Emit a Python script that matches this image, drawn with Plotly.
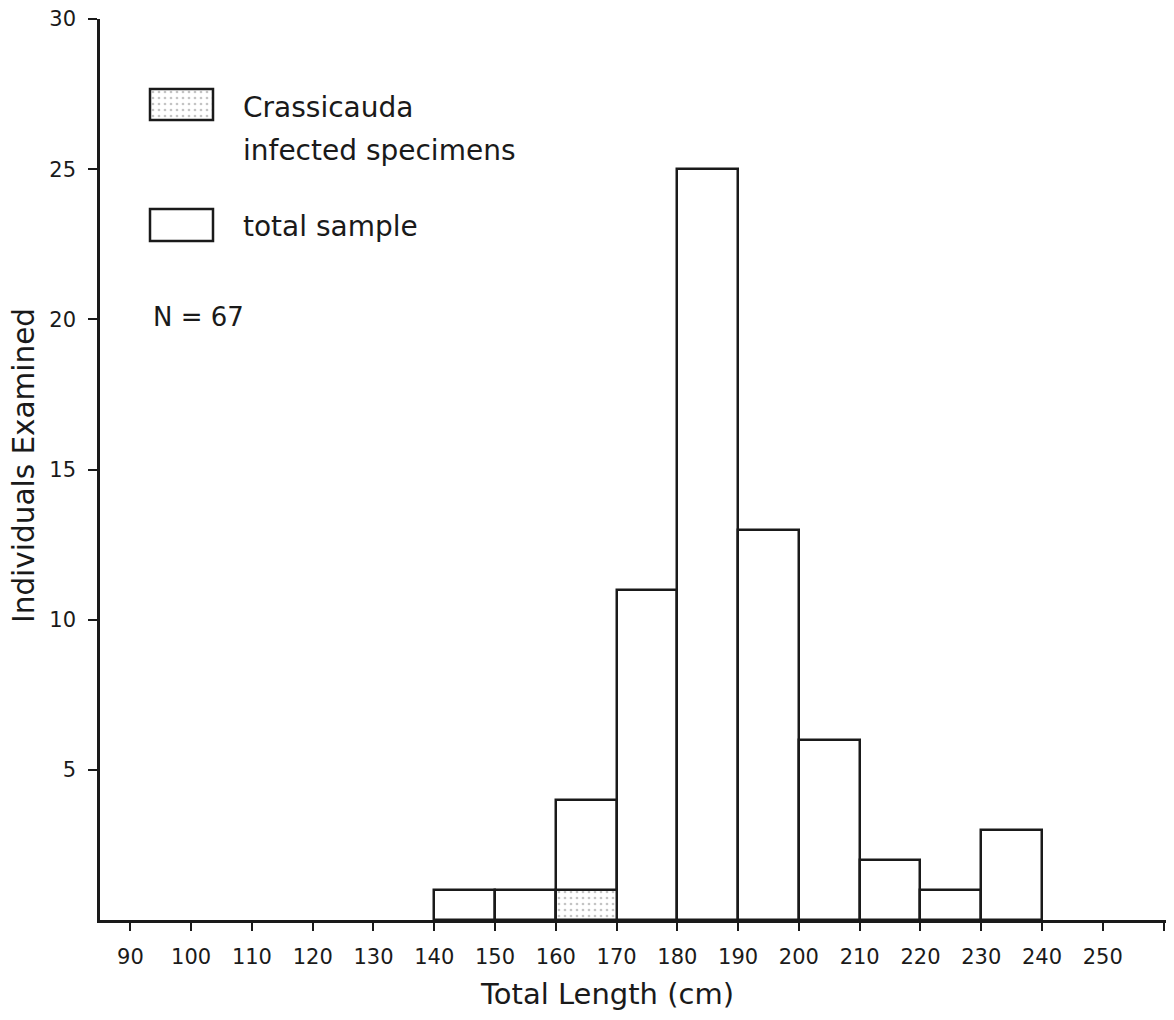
import plotly.graph_objects as go

# ---- data ----
bin_left = [140, 150, 160, 170, 180, 190, 200, 210, 220, 230]
total_sample = [1, 1, 4, 11, 25, 13, 6, 2, 1, 3]
infected_left = [160]
infected_counts = [1]
bin_width = 10

x_tick_vals = [90, 100, 110, 120, 130, 140, 150, 160, 170, 180, 190, 200, 210, 220, 230, 240, 250, 260]
x_tick_text = ["90", "100", "110", "120", "130", "140", "150", "160", "170", "180", "190",
               "200", "210", "220", "230", "240", "250", ""]
y_tick_vals = [5, 10, 15, 20, 25, 30]

FONT = "DejaVu Sans"
INK = "#1a1a1a"
LW = 2.5

# page body adds an 8px margin; the figure is sized to fit the window exactly
OFF = 8
W, H = 1174 - 2 * OFF, 1020 - 2 * OFF
ML, MT = 100 - OFF, 19 - OFF
MR = 0
MB = H - (920 - OFF)
PW, PH = W - ML - MR, H - MT - MB


def px_x(p):
    # screenshot pixel -> paper x
    return (p - OFF - ML) / PW


def px_y(p):
    # screenshot pixel -> paper y
    return (H - MB - (p - OFF)) / PH


stipple = dict(shape=".", fgcolor="#8a8a8a", bgcolor="white", size=6, solidity=0.16)

fig = go.Figure()

fig.add_trace(go.Bar(
    x=[v + bin_width / 2 for v in bin_left],
    y=total_sample,
    width=[bin_width] * len(bin_left),
    marker=dict(color="white", line=dict(color=INK, width=LW)),
    name="total sample",
    showlegend=False,
))

fig.add_trace(go.Bar(
    x=[v + bin_width / 2 for v in infected_left],
    y=infected_counts,
    width=[bin_width] * len(infected_left),
    marker=dict(color="white", line=dict(color=INK, width=LW), pattern=stipple),
    name="Crassicauda infected specimens",
    showlegend=False,
))

# legend swatch with the same stipple (on a hidden auxiliary axis)
sw_x0, sw_x1 = px_x(150), px_x(213)
fig.add_trace(go.Bar(
    x=[0.5], y=[1], width=[1], xaxis="x2", yaxis="y2",
    marker=dict(color="white", line=dict(width=0), pattern=stipple),
    showlegend=False, hoverinfo="skip",
))

shapes = [
    dict(type="rect", xref="paper", yref="paper", x0=sw_x0, x1=sw_x1,
         y0=px_y(120), y1=px_y(89), line=dict(color=INK, width=LW), fillcolor="rgba(0,0,0,0)"),
    dict(type="rect", xref="paper", yref="paper", x0=sw_x0, x1=sw_x1,
         y0=px_y(241), y1=px_y(209), line=dict(color=INK, width=LW), fillcolor="white"),
]

annotations = [
    dict(text="Crassicauda", x=px_x(241), y=px_y(107), xref="paper", yref="paper",
         xanchor="left", yanchor="middle", showarrow=False, font=dict(family=FONT, size=28, color=INK)),
    dict(text="infected specimens", x=px_x(241), y=px_y(150), xref="paper", yref="paper",
         xanchor="left", yanchor="middle", showarrow=False, font=dict(family=FONT, size=28, color=INK)),
    dict(text="total sample", x=px_x(241), y=px_y(226), xref="paper", yref="paper",
         xanchor="left", yanchor="middle", showarrow=False, font=dict(family=FONT, size=28, color=INK)),
    dict(text="N = 67", x=px_x(151), y=px_y(317), xref="paper", yref="paper",
         xanchor="left", yanchor="middle", showarrow=False, font=dict(family=FONT, size=26, color=INK)),
    dict(text="Total Length (cm)", x=px_x(607), y=px_y(994), xref="paper", yref="paper",
         xanchor="center", yanchor="middle", showarrow=False, font=dict(family=FONT, size=29, color=INK)),
    dict(text="Individuals Examined", x=px_x(24), y=px_y(466), xref="paper", yref="paper",
         xanchor="center", yanchor="middle", textangle=-90, showarrow=False,
         font=dict(family=FONT, size=29.5, color=INK)),
]

fig.update_layout(
    width=W, height=H,
    margin=dict(l=ML, r=MR, t=MT, b=MB, pad=0),
    paper_bgcolor="white", plot_bgcolor="white",
    barmode="overlay", bargap=0,
    showlegend=False,
    shapes=shapes,
    annotations=annotations,
    font=dict(family=FONT, color=INK),
    xaxis=dict(
        range=[85, 260.4], tickmode="array", tickvals=x_tick_vals, ticktext=x_tick_text,
        showgrid=False, zeroline=False, showline=True, linecolor=INK, linewidth=LW,
        ticks="outside", ticklen=8, tickwidth=2, tickcolor=INK,
        tickfont=dict(family=FONT, size=21, color=INK), ticklabelstandoff=8,
        ticklabeloverflow="allow",
    ),
    yaxis=dict(
        range=[0, 30], tickmode="array", tickvals=y_tick_vals,
        showgrid=False, zeroline=False, showline=True, linecolor=INK, linewidth=LW,
        ticks="outside", ticklen=9, tickwidth=2, tickcolor=INK,
        tickfont=dict(family=FONT, size=21, color=INK), ticklabelstandoff=8,
        ticklabeloverflow="allow",
    ),
    xaxis2=dict(domain=[sw_x0, sw_x1], range=[0, 1], visible=False, anchor="y2", fixedrange=True),
    yaxis2=dict(domain=[px_y(120), px_y(89)], range=[0, 1], visible=False, anchor="x2", fixedrange=True),
)

fig.write_html("out.html")
